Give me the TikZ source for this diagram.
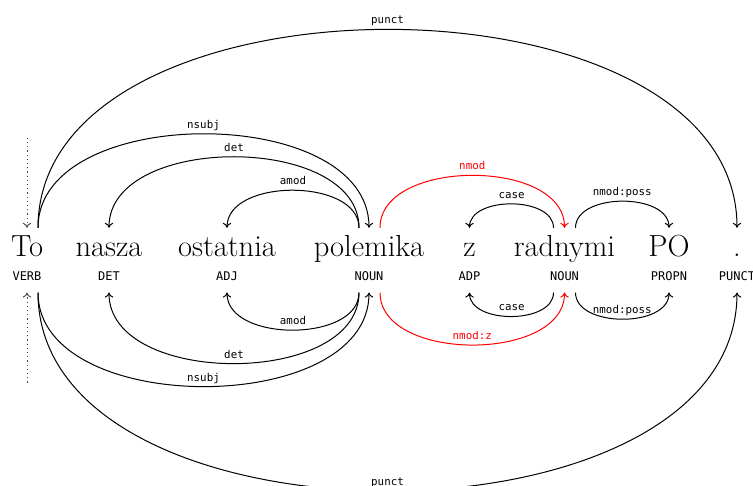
\documentclass[tikz,border=0pt]{standalone}
\usepackage{fontspec}
\usepackage{tikz}
\usetikzlibrary{arrows.meta, positioning}
\newfontfamily\depmono{DejaVu Sans Mono}
\tikzset{
  word/.style={font=\fontsize{30.5}{31}\selectfont, inner sep=0pt,
               text height=29pt, text depth=8pt, anchor=base},
  postag/.style={font=\depmono\fontsize{12}{13}\selectfont, inner sep=0pt,
                 text height=9pt, text depth=12pt},
  dep/.style={-{To[length=5pt, width=8.5pt]}, line width=1pt, looseness=0.97},
  deplabel/.style={font=\depmono\fontsize{10.8}{11}\selectfont, above,
                   inner sep=2.5pt, text height=8pt, text depth=2.5pt},
  arcup/.style={out=90, in=90},
  arcdown/.style={out=-90, in=-90},
  rootline/.style={-{To[length=5pt, width=8.5pt]}, line width=1pt,
                   dash pattern=on 1.2pt off 3pt, draw=black!70},
}

\begin{document}
\begin{tikzpicture}[x=1pt, y=1pt, node distance=6pt]
  \useasboundingbox (0,-226) rectangle (753,260);

  % words of the sentence
  \node[word] (to) at (27,3) {To};
  \node[word] (nasza) at (109,3) {nasza};
  \node[word] (ostatnia) at (227,3) {ostatnia};
  \node[word] (polemika) at (369,3) {polemika};
  \node[word] (z) at (469.5,3) {z};
  \node[word] (radnymi) at (564.5,3) {radnymi};
  \node[word] (po) at (669,3) {PO};
  \node[word] (dot) at (737,3) {.};

  % UPOS tags
  \node[postag, below=of to] (to-tag) {VERB};
  \node[postag, below=of nasza] (nasza-tag) {DET};
  \node[postag, below=of ostatnia] (ostatnia-tag) {ADJ};
  \node[postag, below=of polemika] (polemika-tag) {NOUN};
  \node[postag, below=of z] (z-tag) {ADP};
  \node[postag, below=of radnymi] (radnymi-tag) {NOUN};
  \node[postag, below=of po] (po-tag) {PROPN};
  \node[postag, below=of dot] (dot-tag) {PUNCT};

  % root
  \coordinate (root-in) at ([yshift=90pt]to.north);
  \coordinate (root-out) at ([yshift=-90pt]to-tag.south);
  \draw[rootline] (root-in) -- (to.north);
  \draw[rootline] (root-out) -- (to-tag.south);

  % arcs above the words
  \draw[dep] ([xshift=11pt]to.north) to[arcup] node[deplabel] {punct} (dot.north);
  \draw[dep] ([xshift=11pt]to.north) to[arcup] node[deplabel] {nsubj} (polemika.north);
  \draw[dep] ([xshift=-10pt]polemika.north) to[arcup] node[deplabel] {det} (nasza.north);
  \draw[dep] ([xshift=-10pt]polemika.north) to[arcup] node[deplabel] {amod} (ostatnia.north);
  \draw[dep, red] ([xshift=11pt]polemika.north) to[arcup] node[deplabel] {nmod} (radnymi.north);
  \draw[dep] ([xshift=-11pt]radnymi.north) to[arcup] node[deplabel] {case} (z.north);
  \draw[dep] ([xshift=11pt]radnymi.north) to[arcup] node[deplabel] {nmod:poss} (po.north);

  % arcs below the tags
  \draw[dep] ([xshift=11pt]to-tag.south) to[arcdown] node[deplabel] {punct} (dot-tag.south);
  \draw[dep] ([xshift=11pt]to-tag.south) to[arcdown] node[deplabel] {nsubj} (polemika-tag.south);
  \draw[dep] ([xshift=-10pt]polemika-tag.south) to[arcdown] node[deplabel] {det} (nasza-tag.south);
  \draw[dep] ([xshift=-10pt]polemika-tag.south) to[arcdown] node[deplabel] {amod} (ostatnia-tag.south);
  \draw[dep, red] ([xshift=11pt]polemika-tag.south) to[arcdown] node[deplabel] {nmod:z} (radnymi-tag.south);
  \draw[dep] ([xshift=-11pt]radnymi-tag.south) to[arcdown] node[deplabel] {case} (z-tag.south);
  \draw[dep] ([xshift=11pt]radnymi-tag.south) to[arcdown] node[deplabel] {nmod:poss} (po-tag.south);

\end{tikzpicture}
\end{document}
